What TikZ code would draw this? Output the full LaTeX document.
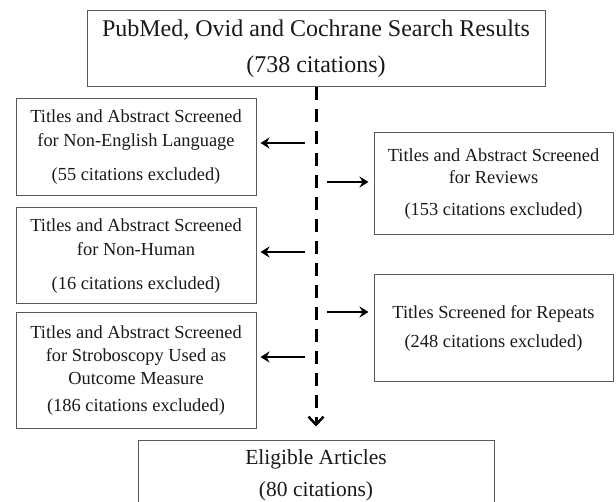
\documentclass[tikz,border=0pt]{standalone}
\usepackage{fontspec}
\setmainfont{Liberation Serif}
\usetikzlibrary{arrows.meta}
\tikzset{
  box/.style={draw=black!65, line width=1pt, align=center, inner sep=0pt,
    font=\fontsize{18.4}{24}\selectfont, text=black!90},
  bigbox/.style={box, font=\fontsize{24}{36}\selectfont},
  arr/.style={line width=1.8pt, -{Stealth[length=9pt,width=11pt,inset=3pt]}},
  flow/.style={line width=3pt, dash pattern=on 13pt off 9pt,
    -{Straight Barb[length=8pt,width=15pt,line width=2.5pt]}},
}
\begin{document}
\begin{tikzpicture}[x=1pt,y=-1pt]
\useasboundingbox (0,0) rectangle (616,502);
\clip (0,0) rectangle (616,502);
% search results and final set
\node[bigbox, minimum width=458, minimum height=76] (search) at (316,49)
  {PubMed, Ovid and Cochrane Search Results\\(738 citations)};
\node[bigbox, minimum width=356, minimum height=68, font=\fontsize{21.5}{32}\selectfont] (eligible) at (316,475)
  {Eligible Articles\\(80 citations)};
% exclusions on the left
\node[box, minimum width=240, minimum height=97] (lang) at (136,147.5)
  {Titles and Abstract Screened\\for Non-English Language\\[10pt](55 citations excluded)};
\node[box, minimum width=240, minimum height=96] (human) at (136,256)
  {Titles and Abstract Screened\\for Non-Human\\[10pt](16 citations excluded)};
\node[box, minimum width=240, minimum height=116] (strobo) at (136,371)
  {Titles and Abstract Screened\\[-1pt]for Stroboscopy Used as\\[-1pt]Outcome Measure\\[3pt](186 citations excluded)};
% exclusions on the right
\node[box, minimum width=239, minimum height=102] (reviews) at (493.5,184)
  {Titles and Abstract Screened\\[-2pt]for Reviews\\[8pt](153 citations excluded)};
\node[box, minimum width=239, minimum height=107] (repeats) at (493.5,328.5)
  {Titles Screened for Repeats\\[5pt](248 citations excluded)};
% main flow
\draw[flow, shorten >=14pt] (search.south) -- (eligible.north);
\coordinate (l1) at (305,143);
\coordinate (l2) at (305,252);
\coordinate (l3) at (305,357);
\coordinate (r1) at (327,182);
\coordinate (r2) at (327,312);
\draw[arr, shorten >=4pt] (l1) -- (lang.east |- l1);
\draw[arr, shorten >=4pt] (l2) -- (human.east |- l2);
\draw[arr, shorten >=4pt] (l3) -- (strobo.east |- l3);
\draw[arr, shorten >=5pt] (r1) -- (reviews.west |- r1);
\draw[arr, shorten >=5pt] (r2) -- (repeats.west |- r2);
\end{tikzpicture}
\end{document}
